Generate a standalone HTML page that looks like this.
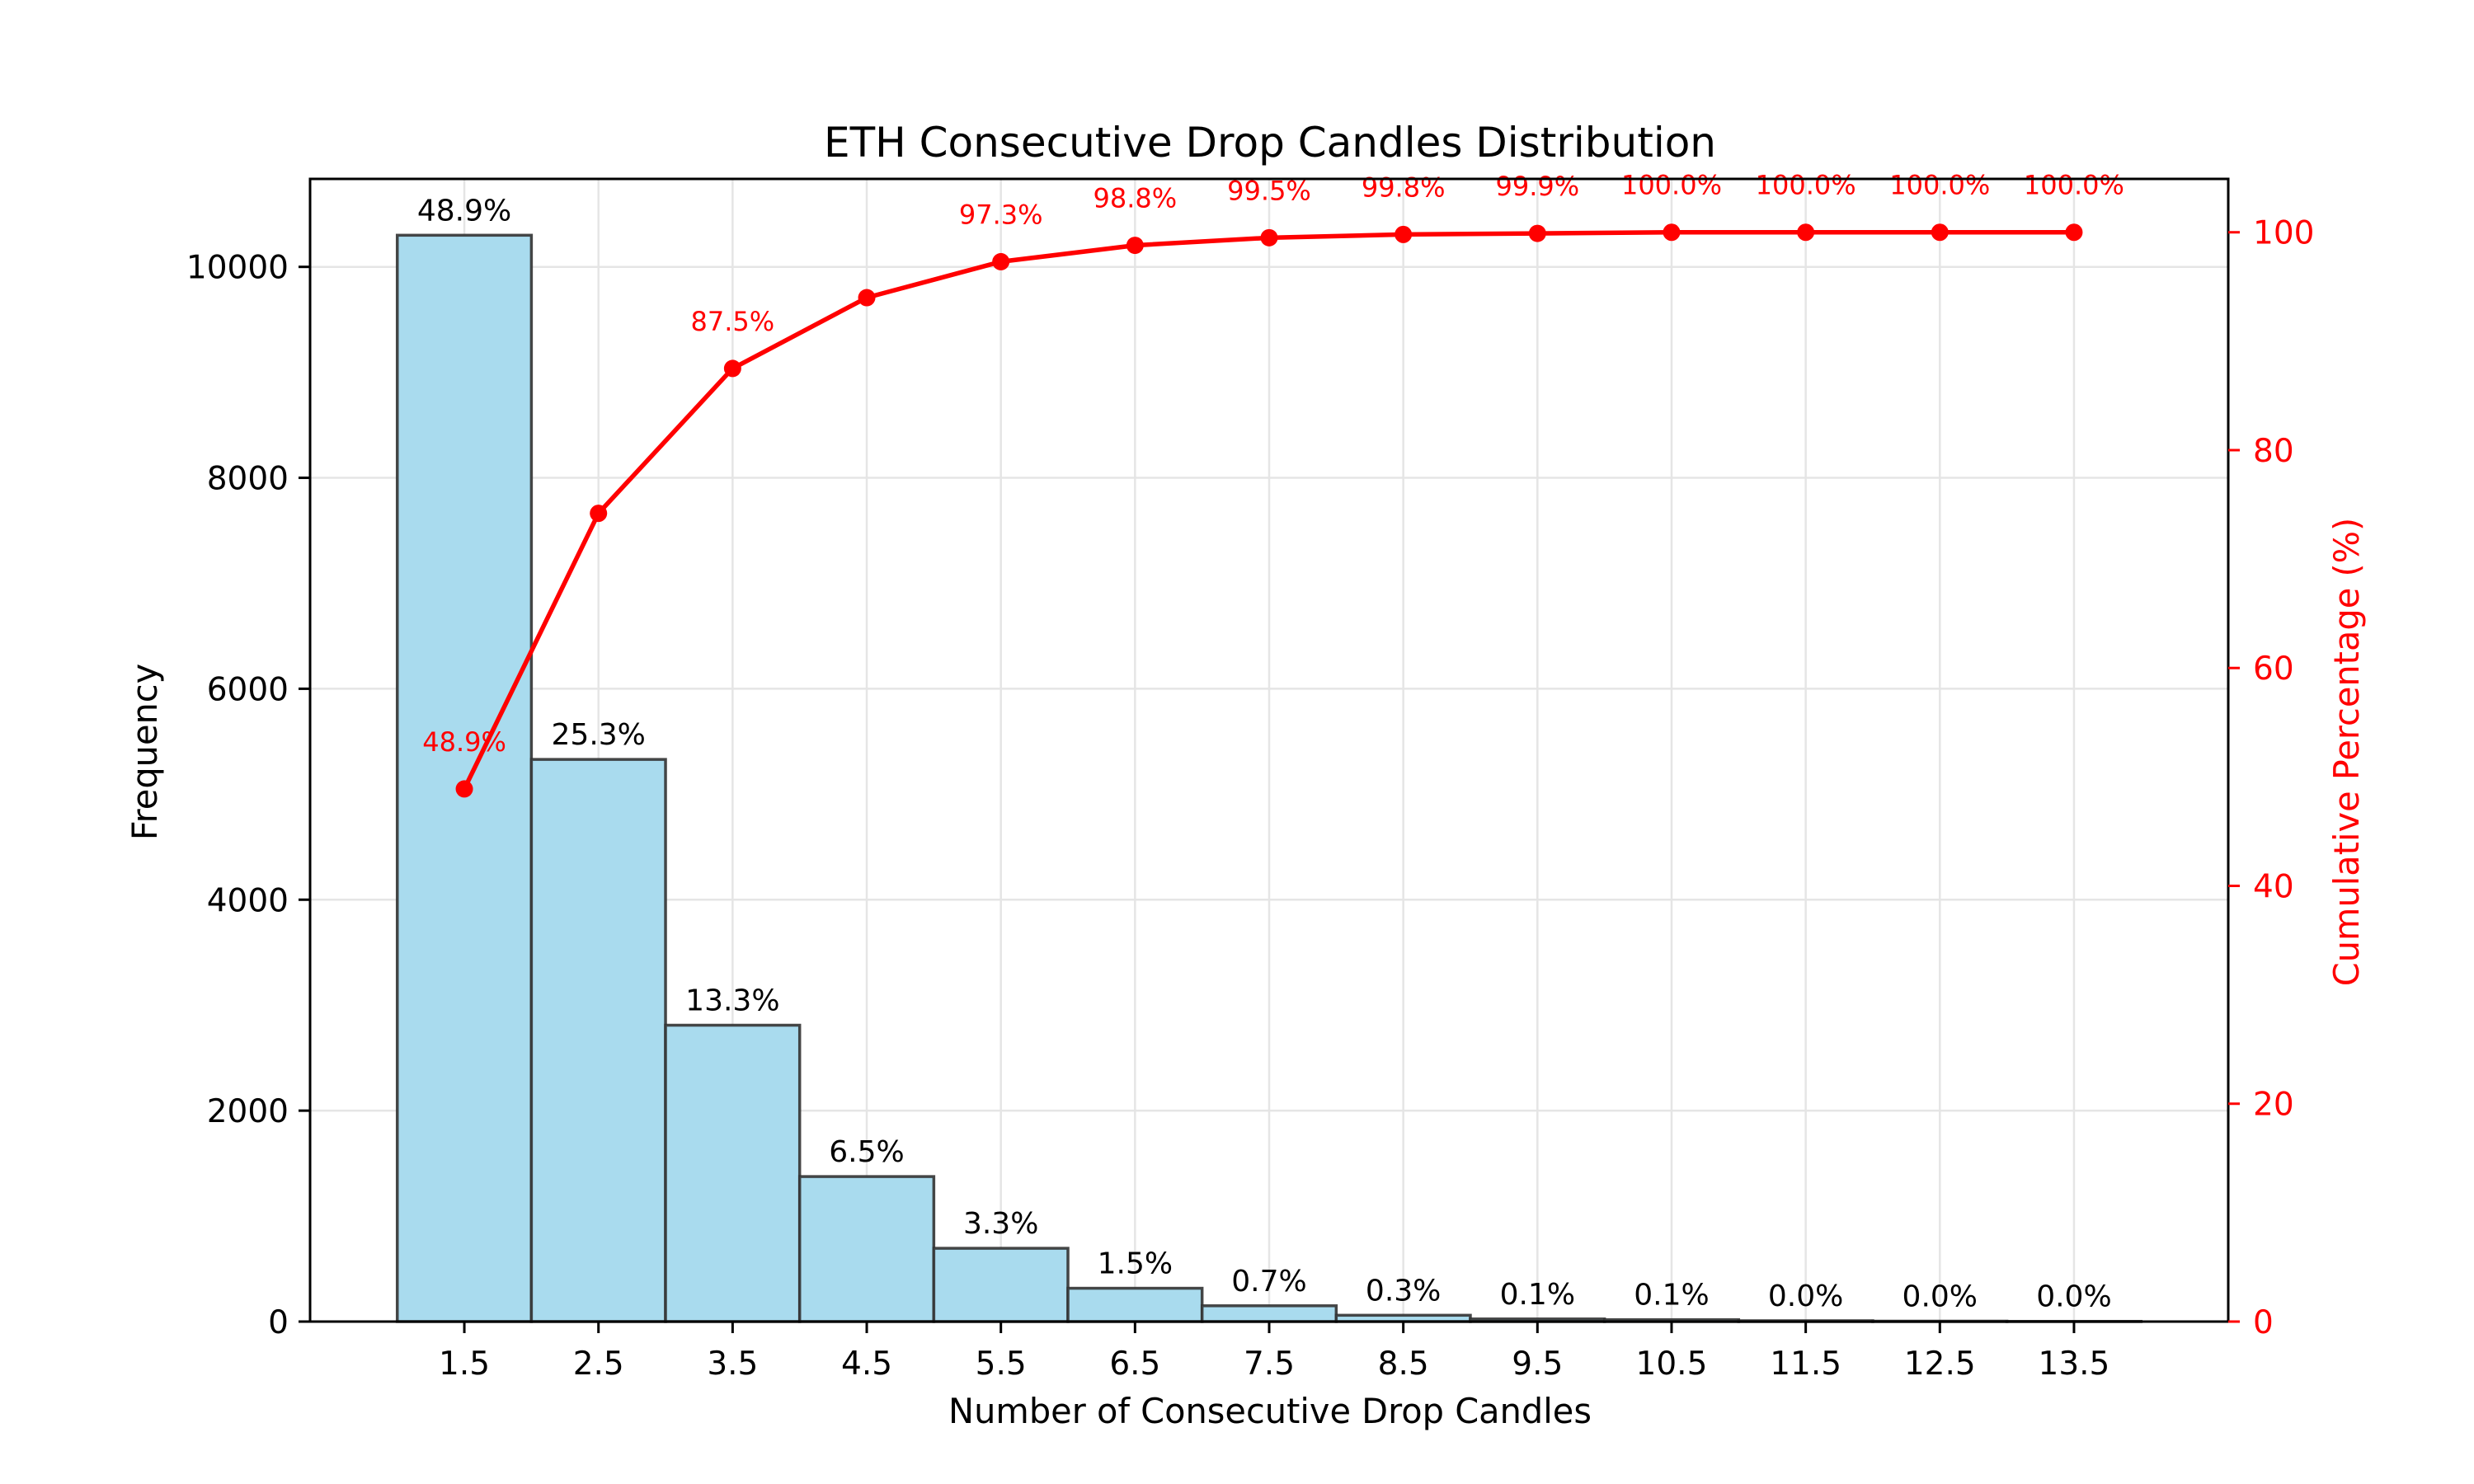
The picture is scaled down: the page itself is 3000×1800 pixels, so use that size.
<!DOCTYPE html>
<html><head><meta charset="utf-8"><style>
html,body{margin:0;padding:0;background:#fff}
svg{display:block}
text{font-family:"DejaVu Sans","Liberation Sans",sans-serif}
</style></head><body>
<svg id="chart" width="3000" height="1800" viewBox="0 0 3000 1800" xmlns="http://www.w3.org/2000/svg">
<rect width="3000" height="1800" fill="#fff"/>
<g id="grid"></g>
<g id="bars"></g>
<g id="line"></g>
<g id="axes"></g>
<text x="1540" y="190" font-size="50" text-anchor="middle">ETH Consecutive Drop Candles Distribution</text>
<text x="1540" y="1726" font-size="41.5" text-anchor="middle">Number of Consecutive Drop Candles</text>
<text x="190" y="912" font-size="41.5" text-anchor="middle" transform="rotate(-90 190 912)">Frequency</text>
<text x="2860" y="912" font-size="41.5" fill="#ff0000" text-anchor="middle" transform="rotate(-90 2860 912)">Cumulative Percentage (%)</text>
</svg>
<script>
const categories = [1.5,2.5,3.5,4.5,5.5,6.5,7.5,8.5,9.5,10.5,11.5,12.5,13.5];
const counts = [10300,5330,2810,1375,695,316,150,60,25,18,8,4,2];
const pctLabels = ["48.9%","25.3%","13.3%","6.5%","3.3%","1.5%","0.7%","0.3%","0.1%","0.1%","0.0%","0.0%","0.0%"];
const cumulative = [48.9,74.2,87.5,94.0,97.3,98.8,99.5,99.8,99.9,100.0,100.0,100.0,100.0];
const cumLabels = ["48.9%","","87.5%","","97.3%","98.8%","99.5%","99.8%","99.9%","100.0%","100.0%","100.0%","100.0%"];
const yTicks = [0,2000,4000,6000,8000,10000];
const y2Ticks = [0,20,40,60,80,100];

const L=376,R=2702,T=217,B=1603;
const xMin=0.35,xMax=14.65,yMax=10834,y2Max=104.9;
const X=v=>L+(v-xMin)/(xMax-xMin)*(R-L);
const Y=v=>B-v/yMax*(B-T);
const Y2=v=>B-v/y2Max*(B-T);
const NS="http://www.w3.org/2000/svg";
function mk(tag,attrs,parent,txt){const e=document.createElementNS(NS,tag);for(const k in attrs)e.setAttribute(k,attrs[k]);if(txt!==undefined)e.textContent=txt;parent.appendChild(e);return e;}
const grid=document.getElementById('grid'),bars=document.getElementById('bars'),line=document.getElementById('line'),axes=document.getElementById('axes');

yTicks.forEach(t=>{const g=mk('line',{x1:L,x2:R,y1:Y(t),y2:Y(t),stroke:'#e5e5e5','stroke-width':2.5},grid);

});
categories.forEach(c=>{const g=mk('line',{x1:X(c),x2:X(c),y1:T,y2:B,stroke:'#e5e5e5','stroke-width':2.5},grid);

});

categories.forEach((c,i)=>{
 const x0=X(c-0.5),x1=X(c+0.5);
 const r=mk('rect',{x:x0,y:Y(counts[i]),width:x1-x0,height:B-Y(counts[i]),fill:'#a9dbee',stroke:'#333','stroke-opacity':0.9,'stroke-width':3.5},bars);
 
 
 const t=mk('text',{x:X(c),y:Y(counts[i])-18,'font-size':36,'text-anchor':'middle'},bars,pctLabels[i]);
 
 
});

const pts=categories.map((c,i)=>X(c)+','+Y2(cumulative[i])).join(' ');
const pl=mk('polyline',{points:pts,fill:'none',stroke:'#ff0000','stroke-width':5.5,'stroke-linejoin':'round'},line);


categories.forEach((c,i)=>{
 const m=mk('circle',{cx:X(c),cy:Y2(cumulative[i]),r:10.5,fill:'#ff0000'},line);
 
 
 if(cumLabels[i]){const t=mk('text',{x:X(c),y:Y2(cumulative[i])-46,'font-size':32,'text-anchor':'middle',fill:'#ff0000'},line,cumLabels[i]);
 
 }
});

const fr=mk('rect',{x:L,y:T,width:R-L,height:B-T,fill:'none',stroke:'#000','stroke-width':3},axes);


yTicks.forEach(t=>{mk('line',{x1:L-14,x2:L,y1:Y(t),y2:Y(t),stroke:'#000','stroke-width':3},axes);
 const tx=mk('text',{x:L-26,y:Y(t)+14,'font-size':39,'text-anchor':'end'},axes,String(t));
 
 });
y2Ticks.forEach(t=>{mk('line',{x1:R,x2:R+14,y1:Y2(t),y2:Y2(t),stroke:'#ff0000','stroke-width':3},axes);
 const tx=mk('text',{x:R+30,y:Y2(t)+14,'font-size':39,fill:'#ff0000'},axes,String(t));
 
 });
categories.forEach(c=>{mk('line',{x1:X(c),x2:X(c),y1:B,y2:B+14,stroke:'#000','stroke-width':3},axes);
 const tx=mk('text',{x:X(c),y:B+64,'font-size':39,'text-anchor':'middle'},axes,String(c));
 
 });
</script>
</body></html>
